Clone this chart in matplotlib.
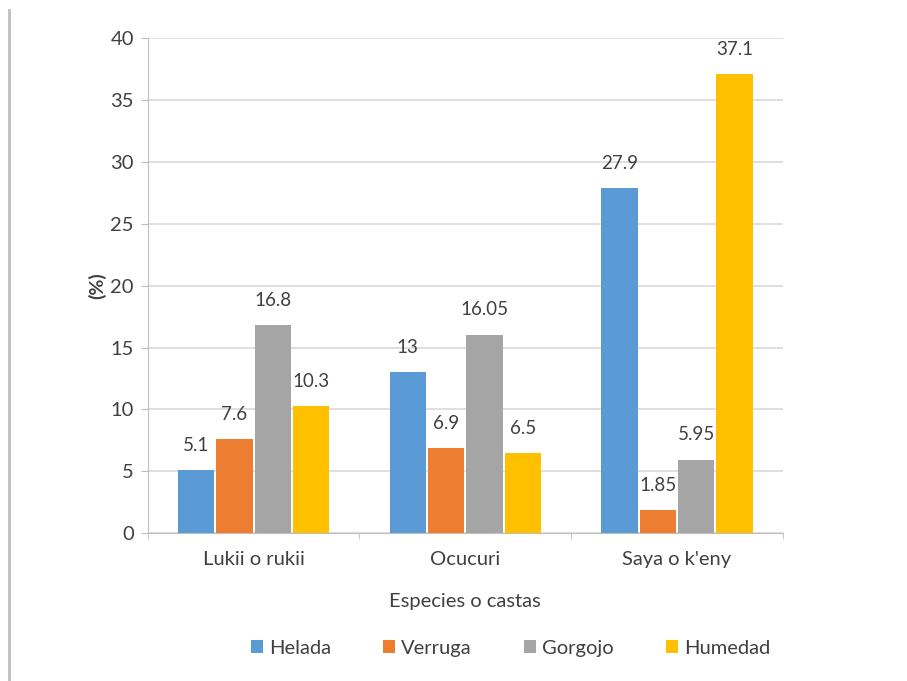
import numpy as np
import matplotlib.pyplot as plt
from matplotlib.lines import Line2D

plt.rcParams['font.family'] = ['Lato', 'DejaVu Sans']

# Data
categories = ["Lukii o rukii", "Ocucuri", "Saya o k'eny"]
series = ["Helada", "Verruga", "Gorgojo", "Humedad"]
helada = [5.1, 13, 27.9]
verruga = [7.6, 6.9, 1.85]
gorgojo = [16.8, 16.05, 5.95]
humedad = [10.3, 6.5, 37.1]
labels = [["5.1", "13", "27.9"],
          ["7.6", "6.9", "1.85"],
          ["16.8", "16.05", "5.95"],
          ["10.3", "6.5", "37.1"]]
colors = ["#5B9BD5", "#ED7D31", "#A5A5A5", "#FFC000"]

txt = "#404040"
fig = plt.figure(figsize=(9.07, 6.81), dpi=100)
ax = fig.add_axes([0.163, 0.217, 0.700, 0.727])

x = np.arange(len(categories))
w = 0.181
values = [helada, verruga, gorgojo, humedad]
for i, (vals, name, c) in enumerate(zip(values, series, colors)):
    pos = x + (i - 1.5) * w
    ax.bar(pos, vals, width=w * 0.95, color=c, label=name, zorder=3)
    for p, v, lab in zip(pos, vals, labels[i]):
        ax.text(p, v + 1.3, lab, ha="center", va="bottom", fontsize=13.5, color=txt)

ax.set_ylim(0, 40)
ax.set_yticks(range(0, 41, 5))
ax.set_xlim(-0.5, 2.5)
ax.set_xticks(x)
ax.set_xticklabels(categories)
ax.set_xticks([-0.5, 0.5, 1.5, 2.5], minor=True)
ax.tick_params(axis="x", which="major", length=0, pad=13, labelsize=14.5, colors=txt)
ax.tick_params(axis="x", which="minor", length=4, color="#BFBFBF")
ax.tick_params(axis="y", length=5, color="#BFBFBF", labelsize=14.5, labelcolor=txt, pad=5)
ax.grid(axis="y", color="#D9D9D9", linewidth=1.2, zorder=0)
for s in ["top", "right"]:
    ax.spines[s].set_visible(False)
ax.spines["left"].set_color("#BFBFBF")
ax.spines["bottom"].set_color("#BFBFBF")

ax.set_ylabel("(%)", fontsize=14, fontweight="bold", color=txt, labelpad=3)
ax.set_xlabel("Especies o castas", fontsize=14.5, color=txt, labelpad=18)

fig.legend(loc="center", bbox_to_anchor=(0.563, 0.048), ncol=4, frameon=False,
           fontsize=14.5, handlelength=0.6, handleheight=0.6, columnspacing=2.6,
           handletextpad=0.3, labelcolor=txt)

# thin frame line on the left edge
fig.add_artist(Line2D([0.010, 0.010], [0.0, 0.985], color="#BFBFBF", linewidth=2))

fig.savefig("out.png", dpi=100)
